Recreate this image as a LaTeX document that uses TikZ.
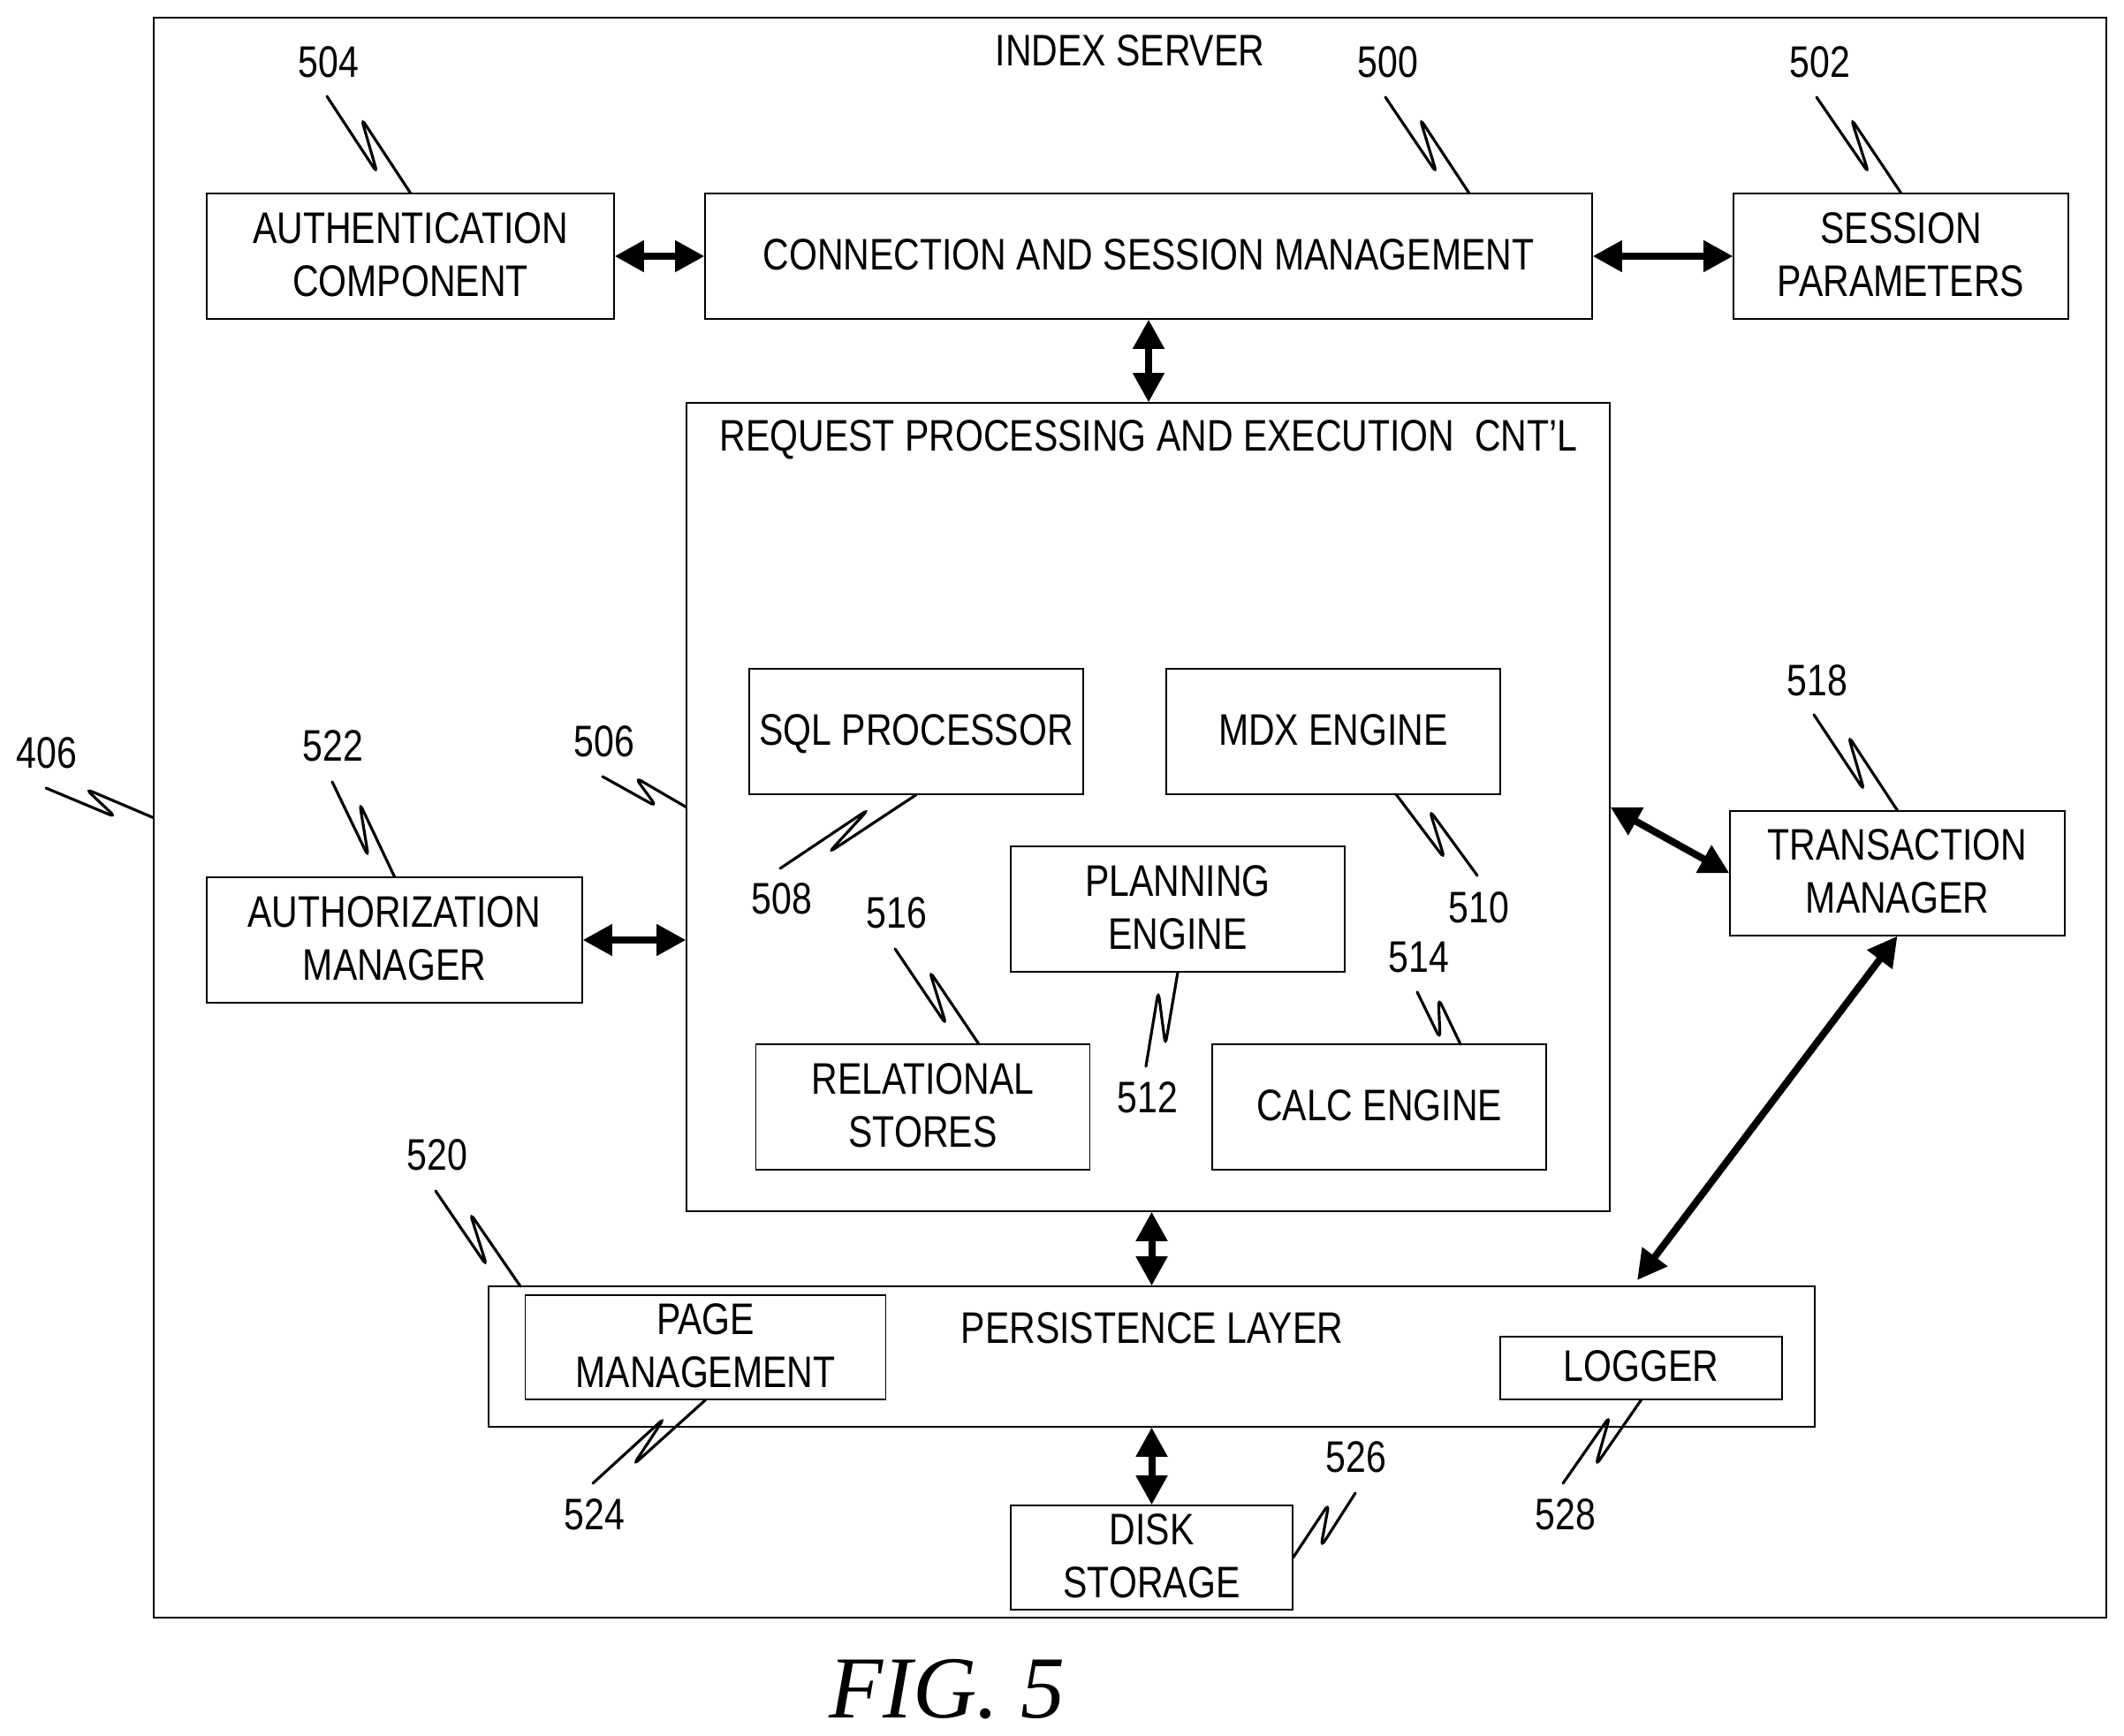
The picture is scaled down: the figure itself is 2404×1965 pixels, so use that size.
\documentclass[tikz,border=0pt]{standalone}
\usepackage{fontspec}
\setmainfont[FakeStretch=0.82]{Liberation Sans}
\newfontfamily\figfont{Liberation Serif}
\usetikzlibrary{arrows.meta}

\tikzset{
  box/.style={draw,line width=.35pt,inner sep=0,align=center,text depth=1.2pt,minimum width=113.4pt,minimum height=42.6pt},
  tag/.style={inner sep=0},
  leadline/.style={line width=.95pt,rounded corners=2.4pt,line cap=round},
  bothway/.style={line width=2.4pt,{Triangle[length=10pt,width=10.2pt]}-{Triangle[length=10pt,width=10.2pt]},shorten <=0pt,shorten >=0pt}
}

\begin{document}
\begin{tikzpicture}[x=.3pt,y=-.3pt, every node/.style={font=\fontsize{15}{18}\selectfont}]

\useasboundingbox (0,0) rectangle (2404,1965);

\node (outer) [box,minimum width=663pt,minimum height=543.3pt] at (1279,925.5) {};
\node (titleindex) [tag] at (1279,57) {INDEX SERVER};

\node (auth) [box,minimum width=138.3pt] at (464.5,290) {AUTHENTICATION\\COMPONENT};
\node (conn) [box,minimum width=301.2pt] at (1300,290) {CONNECTION AND SESSION MANAGEMENT};
\node (sess) [box,minimum width=113.7pt] at (2151.5,290) {SESSION\\PARAMETERS};

\node (req) [box,minimum width=313.5pt,minimum height=274.5pt] at (1299.5,913.5) {};
\node (titlereq) [tag] at (1300,498) {REQUEST PROCESSING AND EXECUTION\ \ CNT’L};
\node (sql) [box] at (1037,828) {SQL PROCESSOR};
\node (mdx) [box] at (1509,828) {MDX ENGINE};
\node (plan) [box] at (1333,1029) {PLANNING\\ENGINE};
\node (rel) [box] at (1044.5,1253) {RELATIONAL\\STORES};
\node (calc) [box] at (1561,1253) {CALC ENGINE};

\node (authz) [box,minimum width=127.5pt] at (446.5,1064) {AUTHORIZATION\\MANAGER};
\node (trans) [box,minimum width=113.7pt,minimum height=42.3pt] at (2147.5,988.5) {TRANSACTION\\MANAGER};

\node (pers) [box,minimum width=450.3pt,minimum height=47.7pt] at (1303.5,1535.5) {};
\node (titlepers) [tag] at (1304,1503.5) {PERSISTENCE LAYER};
\node (page) [box,minimum width=122.4pt,minimum height=35.4pt] at (798.5,1525) {PAGE\\MANAGEMENT};
\node (logger) [box,minimum width=95.7pt,minimum height=21.3pt] at (1857.5,1548.5) {LOGGER};
\node (disk) [box,minimum width=95.7pt,minimum height=35.4pt] at (1303.5,1763) {DISK\\STORAGE};

\node (fig) [tag,font=\figfont\itshape\fontsize{30}{30}\selectfont] at (1072,1912) {FIG. 5};

\draw [bothway] (auth) -- (conn);
\draw [bothway] (conn) -- (sess);
\draw [bothway] (conn.south) -- (conn.south |- req.north);
\draw [bothway] (authz.east) -- (authz.east -| req.west);
\draw [bothway] (req.east) -- (trans.west);
\draw [bothway] (pers.north |- req.south) -- (pers.north);
\draw [bothway] (pers.south) -- (disk.north);
\coordinate (perstop) at (1853,1449);
\draw [bothway] (trans.south) -- (perstop);

\node (lbl504) [tag] at (372,70) {504};
\node (lbl500) [tag] at (1571,70) {500};
\node (lbl502) [tag] at (2060,70) {502};
\node (lbl406) [tag] at (53,852) {406};
\node (lbl522) [tag] at (377,844) {522};
\node (lbl506) [tag] at (684,839) {506};
\node (lbl508) [tag] at (885,1017) {508};
\node (lbl510) [tag] at (1674,1027) {510};
\node (lbl512) [tag] at (1299,1242) {512};
\node (lbl514) [tag] at (1606,1084) {514};
\node (lbl516) [tag] at (1015,1033) {516};
\node (lbl518) [tag] at (2057,770) {518};
\node (lbl520) [tag] at (495,1307) {520};
\node (lbl524) [tag] at (673,1714) {524};
\node (lbl526) [tag] at (1535,1649) {526};
\node (lbl528) [tag] at (1772,1714) {528};

\coordinate (end504) at (370,109);
\coordinate (end500) at (1568,110);
\coordinate (end502) at (2056,110);
\coordinate (end406) at (52,892);
\coordinate (end522) at (376,885);
\coordinate (end506) at (682,879);
\coordinate (end508) at (883,983);
\coordinate (end510) at (1672,991);
\coordinate (end512) at (1297,1207);
\coordinate (end514) at (1604,1123);
\coordinate (end516) at (1013,1074);
\coordinate (end518) at (2053,809);
\coordinate (end520) at (493,1348);
\coordinate (end524) at (671,1679);
\coordinate (end526) at (1534,1690);
\coordinate (end528) at (1769,1679);
\coordinate (on500) at (1663,219);
\coordinate (on510) at (1580,899);
\coordinate (on514) at (1653,1182);
\coordinate (on516) at (1108,1182);
\coordinate (on520) at (589,1456);

\draw [leadline] (end504) -- (427,196) -- (409,134) -- (auth.north);
\draw [leadline] (end500) -- (1626,196) -- (1607,134) -- (on500);
\draw [leadline] (end502) -- (2115,196) -- (2095,134) -- (sess.north);
\draw [leadline] (end406) -- (131,925) -- (97,893) -- (outer.west);
\draw [leadline] (end522) -- (417,970) -- (407,909) -- (authz.north);
\draw [leadline] (end506) -- (743,913) -- (719,880) -- (req.west);
\draw [leadline] (end508) -- (983,916) -- (938,965) -- (sql.south);
\draw [leadline] (end510) -- (1618,917) -- (1635,972) -- (on510);
\draw [leadline] (end512) -- (1311,1122) -- (1319,1183) -- (plan.south);
\draw [leadline] (end514) -- (1630,1176) -- (1628,1130) -- (on514);
\draw [leadline] (end516) -- (1071,1160) -- (1052,1099) -- (on516);
\draw [leadline] (end518) -- (2110,895) -- (2092,833) -- (trans.north);
\draw [leadline] (end520) -- (551,1433) -- (532,1373) -- (on520);
\draw [leadline] (end524) -- (752,1605) -- (717,1658) -- (page.south);
\draw [leadline] (end526) -- (1495,1751) -- (1504,1702) -- (disk.east);
\draw [leadline] (end528) -- (1822,1603) -- (1806,1659) -- (logger.south);

\end{tikzpicture}
\end{document}
